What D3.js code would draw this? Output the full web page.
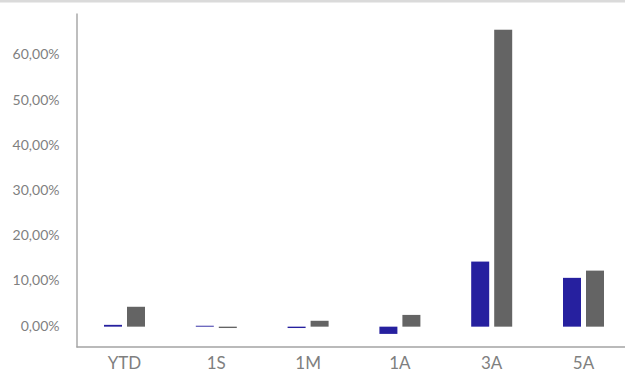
<!DOCTYPE html>
<html>
<head>
<meta charset="utf-8">
<script src="https://cdn.jsdelivr.net/npm/d3@7"></script>
<style>
  html, body { margin: 0; padding: 0; background: #ffffff; }
  svg { display: block; }
</style>
</head>
<body>
<svg id="chart" width="625" height="373"></svg>
<script>
// ---- data ----
const categories = ["YTD", "1S", "1M", "1A", "3A", "5A"];
const seriesNames = ["Fundo", "Benchmark"];
const seriesFundo = [0.4, 0.2, -0.3, -1.6, 14.4, 10.8];
const seriesBenchmark = [4.4, -0.3, 1.3, 2.6, 65.7, 12.4];
const yTickValues = [0, 10, 20, 30, 40, 50, 60];
const yTickLabels = ["0,00%", "10,00%", "20,00%", "30,00%", "40,00%", "50,00%", "60,00%"];
const seriesColors = ["#26209f", "#646464"];

// ---- layout ----
const W = 625, H = 373;
const axisX = 77, axisBottom = 347, axisTop = 13;
const svg = d3.select("#chart");

// top border band
svg.append("rect").attr("x", 0).attr("y", 0).attr("width", W).attr("height", 2.5).attr("fill", "#dadada");

const y = d3.scaleLinear().domain([-4.5, 69.4]).range([axisBottom, axisTop]);
const x0 = d3.scaleBand().domain(categories).range([78.6, 629.4]).paddingInner(0).paddingOuter(0);
const groupW = 41;
const x1 = d3.scaleBand().domain(seriesNames).range([0, groupW]).paddingInner(5 / 23).paddingOuter(0);

const rows = categories.map((c, i) => ({ cat: c, vals: [seriesFundo[i], seriesBenchmark[i]] }));

const groups = svg.append("g").selectAll("g").data(rows).join("g")
  .attr("transform", d => `translate(${x0(d.cat) + (x0.bandwidth() - groupW) / 2},0)`);

groups.selectAll("rect").data(d => d.vals.map((v, j) => ({ name: seriesNames[j], v, j })))
  .join("rect")
  .attr("x", d => x1(d.name))
  .attr("width", x1.bandwidth())
  .attr("y", d => y(Math.max(0, d.v)))
  .attr("height", d => Math.abs(y(d.v) - y(0)))
  .attr("fill", d => seriesColors[d.j]);

// y axis
const yAxis = d3.axisLeft(y).tickValues(yTickValues)
  .tickFormat((d, i) => yTickLabels[i]).tickSize(0).tickSizeOuter(0).tickPadding(17);
const gy = svg.append("g").attr("transform", `translate(${axisX - 0.5},0)`).call(yAxis);
gy.select(".domain").attr("stroke", "#a3a3a3").attr("stroke-width", 1.4);
gy.selectAll("text").attr("fill", "#7f7f7f").attr("font-family", "Lato, 'Open Sans', sans-serif")
  .attr("font-size", 14).attr("dy", "0.25em");

// x axis
const xAxis = d3.axisBottom(x0).tickSize(0).tickSizeOuter(0).tickPadding(0);
const gx = svg.append("g").attr("transform", `translate(0,${axisBottom - 0.5})`).call(xAxis);
gx.select(".domain").attr("stroke", "#a3a3a3").attr("stroke-width", 1.4)
  .attr("d", `M${axisX - 0.5},0.5H${W}`);
gx.selectAll("text").attr("fill", "#7f7f7f").attr("font-family", "Lato, 'Open Sans', sans-serif")
  .attr("font-size", 17).attr("y", 22).attr("dy", 0);
</script>
</body>
</html>
